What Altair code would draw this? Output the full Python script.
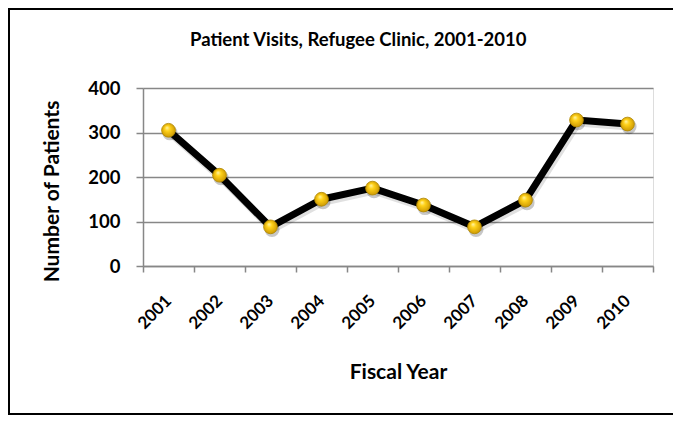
import altair as alt
import pandas as pd

years = ["2001", "2002", "2003", "2004", "2005", "2006", "2007", "2008", "2009", "2010"]
patients = [305, 204, 88, 150, 175, 137, 88, 148, 328, 319]
chart_title = "Patient Visits, Refugee Clinic, 2001-2010"

df = pd.DataFrame({"year": years, "patients": patients})

FONT = "Lato"
GRID = "#878787"

xenc = alt.X(
    "year:N",
    sort=years,
    scale=alt.Scale(type="band", paddingInner=0, paddingOuter=0),
    axis=alt.Axis(
        title="Fiscal Year",
        labelAngle=-45,
        labelAlign="right",
        labelBaseline="middle",
        labelFont=FONT,
        labelFontWeight="bold",
        labelFontSize=17,
        labelColor="black",
        labelPadding=26,
        titleFont=FONT,
        titleFontWeight="bold",
        titleFontSize=21,
        titleColor="black",
        titleX=255,
        titleY=112,
        titleAlign="center",
        titleBaseline="alphabetic",
        tickBand="extent",
        tickColor=GRID,
        tickSize=6,
        tickWidth=1.5,
        domainColor=GRID,
        domainWidth=1.5,
        grid=False,
    ),
)
yenc = alt.Y(
    "patients:Q",
    scale=alt.Scale(domain=[0, 400], nice=False),
    axis=alt.Axis(
        title="Number of Patients",
        values=[0, 100, 200, 300, 400],
        labelFont=FONT,
        labelFontWeight="bold",
        labelFontSize=18.5,
        labelColor="black",
        labelPadding=16,
        titleFont=FONT,
        titleFontWeight="bold",
        titleFontSize=21,
        titleColor="black",
        titleX=-81,
        titleY=103,
        titleAlign="center",
        titleBaseline="bottom",
        tickColor=GRID,
        tickSize=7,
        tickWidth=1.5,
        domainColor=GRID,
        domainWidth=1.5,
        grid=True,
        gridColor=GRID,
        gridWidth=1.5,
    ),
)

base = alt.Chart(df)

border = base.mark_rect(fill="transparent", stroke="black", strokeWidth=2).encode(
    x=alt.value(-134), x2=alt.value(531), y=alt.value(-79), y2=alt.value(326)
)

title_text = alt.Chart(pd.DataFrame({"t": [chart_title]})).mark_text(
    font=FONT, fontWeight="bold", fontSize=18.5, color="black", align="left", baseline="alphabetic"
).encode(text="t:N", x=alt.value(47), y=alt.value(-42))

line_shadow = base.mark_line(color="black", strokeWidth=8, opacity=0.12, xOffset=1.5, yOffset=2.5).encode(
    x=xenc, y=yenc
)
line = base.mark_line(color="black", strokeWidth=7, strokeJoin="round").encode(x=xenc, y=yenc)

point_shadow = base.mark_point(
    filled=True, shape="circle", size=230, color="black", opacity=0.22, xOffset=1.5, yOffset=2.5
).encode(x=xenc, y=yenc)

points = base.mark_point(
    filled=True,
    shape="circle",
    size=190,
    stroke="#b08800",
    strokeWidth=0.8,
    opacity=1,
    fill=alt.RadialGradient(
        gradient="radial",
        x1=0.38, y1=0.3, r1=0.0,
        x2=0.5, y2=0.5, r2=0.55,
        stops=[
            alt.GradientStop(offset=0, color="#fff7b0"),
            alt.GradientStop(offset=0.35, color="#ffd21a"),
            alt.GradientStop(offset=1, color="#c99400"),
        ],
    ),
).encode(x=xenc, y=yenc)

chart = alt.layer(border, title_text, line_shadow, line, point_shadow, points).properties(
    width=510,
    height=178,
    autosize=alt.AutoSizeParams(type="none"),
    padding={"left": 135, "top": 80, "right": 20, "bottom": 149},
).configure_view(fill="#d9d9d9", stroke=None).configure(background="white")

chart.save("out.html", embed_options={"renderer": "svg", "actions": False})
